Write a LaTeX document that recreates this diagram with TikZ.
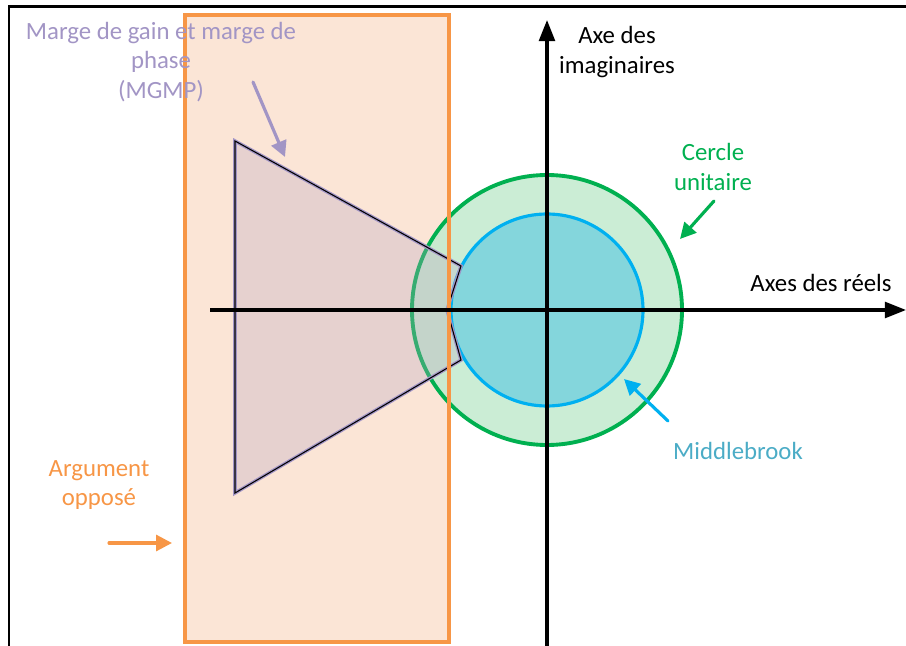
\documentclass[tikz,border=0pt]{standalone}
\usepackage{fontspec}
\setmainfont{Carlito}
\usetikzlibrary{arrows.meta}
\definecolor{mgmp}{HTML}{A295C5}
\definecolor{argorange}{HTML}{F79646}
\definecolor{argfill}{HTML}{FBE5D6}
\definecolor{unitgreen}{HTML}{00B050}
\definecolor{unitfill}{HTML}{C2EACE}
\definecolor{mbblue}{HTML}{00B0F0}
\definecolor{mbfill}{HTML}{84D6DC}
\definecolor{mbtext}{HTML}{4BACC6}
\definecolor{trifill}{HTML}{B8A6C0}
\tikzset{
	axis/.style={line width=0.9pt, -{Triangle[length=6pt,width=4.5pt]}},
	pointer/.style={line width=0.9pt, line cap=round, -{Triangle[length=4.5pt,width=4.5pt]}},
	captxt/.style={align=center, inner sep=0pt, font=\fontsize{7.05}{8.4}\selectfont}
}

\begin{document}
\begin{tikzpicture}[x=0.01cm, y=-0.01cm]
		\useasboundingbox (0, 0) rectangle (906, 646);
		% frame
		\draw[line width=0.85pt] (9, 646) -- (9, 7) -- (906, 7);
		% argument oppose
		\fill[argfill] (185, 15) rectangle (449, 642);
		% circles
		\draw[unitgreen, line width=1.1pt, fill=unitfill, fill opacity=0.85] (547, 310) circle (135);
		\draw[mbblue, line width=0.9pt, fill=mbfill] (547, 310) circle (96);
		% MGMP
		\draw[mgmp, line width=1pt, fill=trifill, fill opacity=0.3] (235, 141) -- (461, 266) -- (447, 310) -- (461, 360) -- (235, 493) -- cycle;
		\draw[line width=0.3pt] (235, 141) -- (461, 266) -- (447, 310) -- (461, 360) -- (235, 493) -- cycle;
		\draw[argorange, line width=1.15pt] (185, 15) rectangle (449, 642);
		% axes
		\coordinate (o) at (547, 310);
		\coordinate (re) at (906, 310);
		\coordinate (im) at (547, 20);
		\draw[axis] (210, 310) -- (re);
		\draw[axis] (547, 646) -- (im);
		% labels
		\node[captxt] (imtxt) at (617, 52) {Axe des\\imaginaires};
		\node[captxt] (retxt) at (821, 283) {Axes des r\'eels};
		\node[captxt, text=mgmp] (mgmptxt) at (161, 62) {Marge de gain et marge de\\phase\\(MGMP)};
		\node[captxt, text=unitgreen] (unittxt) at (713, 167) {Cercle\\unitaire};
		\node[captxt, text=mbtext] (mbtxt) at (738, 451) {Middlebrook};
		\node[captxt, text=argorange] (argtxt) at (99, 485) {Argument\\oppos\'e};
		% pointers
		\coordinate (mgmpA) at (253, 82);
		\coordinate (mgmpB) at (285, 157);
		\coordinate (unitA) at (714, 201);
		\coordinate (unitB) at (680, 239);
		\coordinate (mbA) at (668, 421);
		\coordinate (mbB) at (624, 379);
		\coordinate (argA) at (109, 543);
		\coordinate (argB) at (172, 543);
		\draw[pointer, mgmp] (mgmpA) -- (mgmpB);
		\draw[pointer, unitgreen] (unitA) -- (unitB);
		\draw[pointer, mbblue] (mbA) -- (mbB);
		\draw[pointer, argorange] (argA) -- (argB);
	\end{tikzpicture}
\end{document}
